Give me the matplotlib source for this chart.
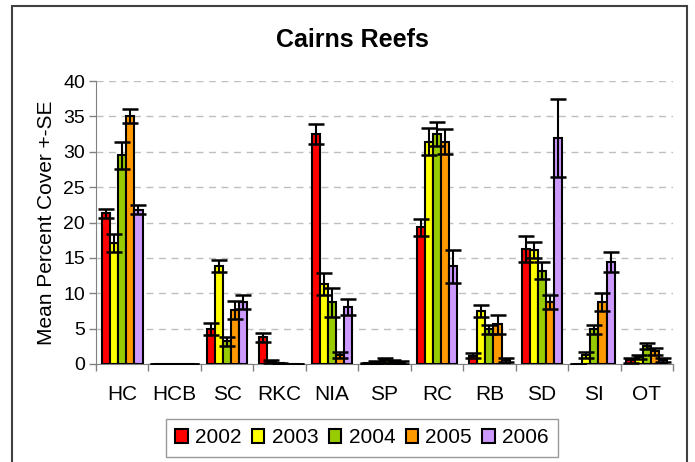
import matplotlib
matplotlib.use("Agg")
import matplotlib.pyplot as plt
import numpy as np
from matplotlib.patches import Rectangle

plt.rcParams['font.family'] = ['Liberation Sans', 'DejaVu Sans']

categories = ["HC", "HCB", "SC", "RKC", "NIA", "SP", "RC", "RB", "SD", "SI", "OT"]
years = ["2002", "2003", "2004", "2005", "2006"]
colors = ["#FF0000", "#FFFF00", "#99CC00", "#FF9900", "#CC99FF"]

v2002 = [21.3, 0, 4.95, 3.75, 32.5, 0.1, 19.3, 1.2, 16.2, 0.0, 0.5]
v2003 = [17.1, 0, 13.8, 0.3, 11.3, 0.2, 31.4, 7.5, 16.1, 1.3, 1.0]
v2004 = [29.5, 0, 3.2, 0.1, 8.7, 0.5, 32.5, 4.9, 13.2, 4.9, 2.5]
v2005 = [35.0, 0, 7.6, 0.0, 1.3, 0.3, 31.4, 5.6, 8.75, 8.75, 1.8]
v2006 = [21.8, 0, 8.75, 0.0, 8.1, 0.2, 13.8, 0.6, 31.9, 14.4, 0.6]

se2002 = [0.6, 0, 0.8, 0.6, 1.45, 0.1, 1.2, 0.3, 1.85, 0.0, 0.3]
se2003 = [1.3, 0, 0.85, 0.2, 1.6, 0.2, 1.9, 0.83, 1.1, 0.45, 0.3]
se2004 = [1.9, 0, 0.6, 0.1, 2.0, 0.3, 1.75, 0.6, 1.2, 0.6, 0.4]
se2005 = [1.0, 0, 1.3, 0.0, 0.45, 0.2, 1.75, 1.3, 1.0, 1.3, 0.5]
se2006 = [0.65, 0, 1.0, 0.0, 1.15, 0.2, 2.3, 0.3, 5.5, 1.4, 0.3]

values = [v2002, v2003, v2004, v2005, v2006]
errors = [se2002, se2003, se2004, se2005, se2006]

fig = plt.figure(figsize=(6.95, 4.62), dpi=100)
ax = fig.add_axes([96/695, 1-364/462, (673-96)/695, (364-81)/462])

x = np.arange(len(categories))
bw = 0.155
for i in range(5):
    offs = (i - 2) * bw
    ax.bar(x + offs, values[i], bw, color=colors[i], edgecolor='black', linewidth=1.5,
           yerr=errors[i], label=years[i], zorder=3,
           error_kw=dict(ecolor='black', elinewidth=1.5, capsize=5.5, capthick=1.8, zorder=4))

ax.set_xlim(-0.5, len(categories) - 0.5)
ax.set_ylim(0, 40)
ax.set_yticks(np.arange(0, 41, 5))
ax.set_xticks(x)
ax.set_xticklabels(categories)
ax.set_xticks(np.arange(-0.5, len(categories), 1), minor=True)
ax.tick_params(axis='x', which='major', length=0, pad=15, labelsize=15)
ax.tick_params(axis='x', which='minor', length=5, color='#808080', width=1)
ax.tick_params(axis='y', length=5, color='#808080', width=1, labelsize=14, pad=3)
for s in ['top', 'right']:
    ax.spines[s].set_visible(False)
ax.spines['left'].set_color('#808080')
ax.spines['bottom'].set_color('#808080')
ax.yaxis.grid(True, linestyle=(0, (5, 4)), color='#BFBFBF', linewidth=1, zorder=0)
ax.set_axisbelow(True)
ax.set_ylabel("Mean Percent Cover +-SE", fontsize=15, labelpad=5)

fig.text(352/695, 1-40/462, "Cairns Reefs", ha='center', va='center', fontsize=18, fontweight='bold')

leg = fig.legend(loc='upper center', bbox_to_anchor=(362/695, 1-419/462), ncol=5, fontsize=15,
                 frameon=True, fancybox=False, edgecolor='#808080', handlelength=0.6, handleheight=0.6,
                 handletextpad=0.35, columnspacing=0.5, borderpad=0.45, borderaxespad=0)
leg.get_frame().set_linewidth(1)

fig.patches.append(Rectangle((12/695, -0.05), (687-12)/695, 1.05 - 6/462, transform=fig.transFigure,
                             fill=False, edgecolor='#404040', linewidth=1.5))

fig.savefig("out.png", dpi=100)
